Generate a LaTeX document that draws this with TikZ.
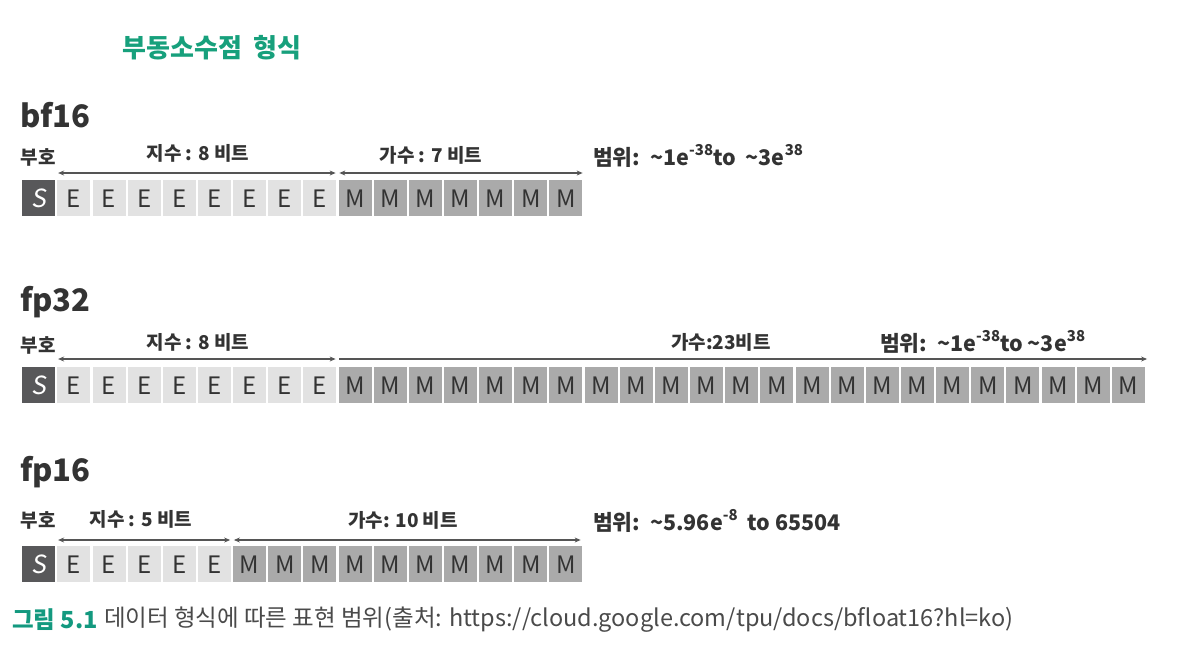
\documentclass[tikz,border=0pt]{standalone}
\usepackage{fontspec}
\setmainfont{Noto Sans CJK KR}
\newfontfamily\slfam{Noto Sans CJK KR}[FakeSlant=0.15]
\usetikzlibrary{arrows.meta}
\definecolor{sgray}{HTML}{58585A}
\definecolor{egray}{HTML}{E2E2E2}
\definecolor{mgray}{HTML}{AAAAAA}
\definecolor{txtdark}{HTML}{333333}
\definecolor{arrowgray}{HTML}{555555}
\definecolor{titlegreen}{HTML}{17A07C}
\definecolor{capgreen}{HTML}{13997F}
\definecolor{capgray}{HTML}{4A4A4A}
\newcommand{\fsz}[1]{\fontsize{#1}{#1}\selectfont}
\newcommand{\supx}[1]{\raisebox{0.5em}{\fsz{15}#1}}
\begin{document}
\begin{tikzpicture}[x=1pt,y=-1pt,
  cellbox/.style={minimum width=33pt,minimum height=36pt,inner sep=0pt,anchor=north west,font=\fsz{24}},
  scell/.style={cellbox,fill=sgray,text=white,font=\slfam\fsz{25}},
  ecell/.style={cellbox,fill=egray,text=txtdark},
  mcell/.style={cellbox,fill=mgray,text=txtdark},
  fmtname/.style={font=\bfseries\fsz{31},text=txtdark,anchor=west,inner sep=0pt},
  lbl/.style={font=\bfseries\fsz{19},text=txtdark,inner sep=0pt},
  rng/.style={font=\bfseries\fsz{21.5},text=txtdark,inner sep=0pt,anchor=west},
  span/.style={draw=arrowgray,line width=1.3pt,{Stealth[length=6pt,width=5pt]}-{Stealth[length=6pt,width=5pt]}},
  spanR/.style={draw=arrowgray,line width=1.3pt,-{Stealth[length=6pt,width=5pt]}}
]
\useasboundingbox (0,0) rectangle (1186,646);

% title
\node[font=\bfseries\fsz{26},text=titlegreen] (title) at (212,48) {부동소수점\ \ 형식};

% ---------- bf16 ----------
\node[fmtname] (bfname) at (20,115) {bf16};
\node[scell] (bf0) at (22,180) {S};
\foreach \i in {1,...,8} \node[ecell] (bf\i) at ({22+35.15*\i},180) {E};
\foreach \i in {9,...,15} \node[mcell] (bf\i) at ({22+35.15*\i},180) {M};
\node[lbl] (bfsign) at (38,157) {부호};
\node[lbl] (bfexp) at (198,153) {지수 : 8 비트};
\node[lbl] (bfman) at (431,155) {가수 : 7 비트};
\node[rng] (bfrange) at (593,156) {범위:\ \ \textasciitilde1e\supx{-38}to\ \ \textasciitilde3e\supx{38}};
\draw[span] ([xshift=1pt,yshift=7pt]bf1.north west) -- ([xshift=-1pt,yshift=7pt]bf8.north east);
\draw[span] ([xshift=1pt,yshift=7pt]bf9.north west) -- ([xshift=0pt,yshift=7pt]bf15.north east);

% ---------- fp32 ----------
\node[fmtname] (f32name) at (20,302) {fp32};
\node[scell] (fa0) at (22,367) {S};
\foreach \i in {1,...,8} \node[ecell] (fa\i) at ({22+35.15*\i},367) {E};
\foreach \i in {9,...,31} \node[mcell] (fa\i) at ({22+35.15*\i},367) {M};
\node[lbl] (fasign) at (38,345) {부호};
\node[lbl] (faexp) at (198,342) {지수 : 8 비트};
\node[lbl] (faman) at (721,342) {가수:23비트};
\node[rng] (farange) at (880,342) {범위:\ \ \textasciitilde1e\supx{-38}to \textasciitilde3e\supx{38}};
\draw[span] ([xshift=1pt,yshift=8pt]fa1.north west) -- ([xshift=-1pt,yshift=8pt]fa8.north east);
\draw[spanR] ([xshift=1pt,yshift=8pt]fa9.north west) -- ([xshift=2pt,yshift=8pt]fa31.north east);

% ---------- fp16 ----------
\node[fmtname] (f16name) at (20,472) {fp16};
\node[scell] (fb0) at (22,546) {S};
\foreach \i in {1,...,5} \node[ecell] (fb\i) at ({22+35.15*\i},546) {E};
\foreach \i in {6,...,15} \node[mcell] (fb\i) at ({22+35.15*\i},546) {M};
\node[lbl] (fbsign) at (38,520) {부호};
\node[lbl] (fbexp) at (141,519) {지수 : 5 비트};
\node[lbl] (fbman) at (403,520) {가수: 10 비트};
\node[rng] (fbrange) at (593,521) {범위:\ \ \textasciitilde5.96e\supx{-8}\ \ to 65504};
\draw[span] ([xshift=1pt,yshift=6pt]fb1.north west) -- ([xshift=-1pt,yshift=6pt]fb5.north east);
\draw[span] ([xshift=1pt,yshift=6pt]fb6.north west) -- ([xshift=-2pt,yshift=6pt]fb15.north east);

% caption
\node[font=\bfseries\fsz{23.5},text=capgreen,anchor=west,inner sep=0pt] (cap1) at (12,620) {그림 5.1};
\node[font=\fsz{23.5},text=capgray,anchor=west,inner sep=0pt] (cap2) at ([xshift=6pt]cap1.east) {데이터 형식에 따른 표현 범위(출처: https://cloud.google.com/tpu/docs/bfloat16?hl=ko)};
\end{tikzpicture}
\end{document}
